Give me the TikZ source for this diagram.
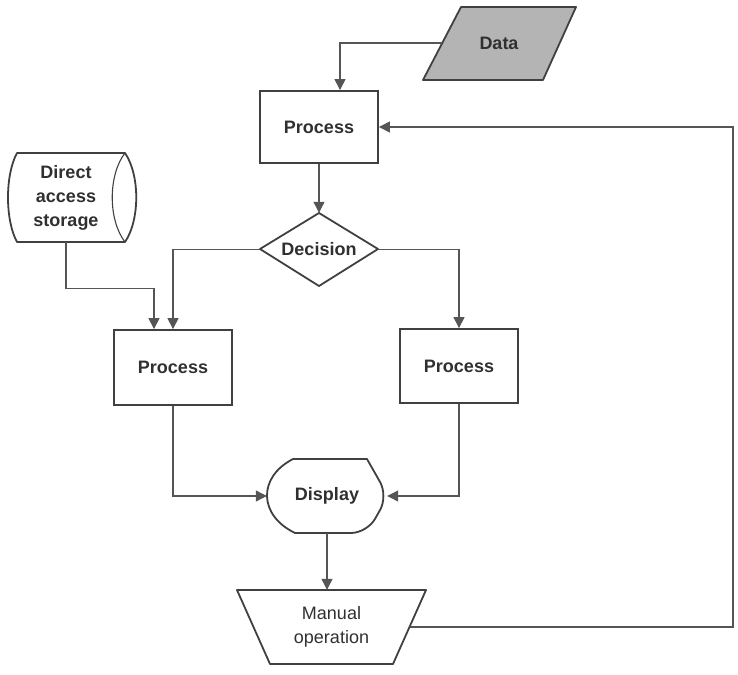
\documentclass[tikz,border=0pt]{standalone}
\usepackage{fontspec}
\setmainfont{Liberation Sans}
\usetikzlibrary{arrows.meta}
\definecolor{textc}{HTML}{303030}
\definecolor{linec}{HTML}{404040}
\definecolor{connc}{HTML}{555555}
\definecolor{datafill}{HTML}{B4B4B4}
\tikzset{
  box/.style={draw=linec, line width=1.8pt, minimum width=118pt, inner sep=0pt},
  outline/.style={draw=linec, line width=1.8pt, line join=round},
  holder/.style={inner sep=0pt, draw=none},
  conn/.style={draw=connc, line width=1.1pt, -{Triangle[width=11pt,length=11pt]}},
  lbl/.style={font=\fontsize{18}{25}\selectfont\bfseries, text=textc, align=center},
  lblr/.style={font=\fontsize{18}{25}\selectfont, text=textc, align=center},
}
\begin{document}
\begin{tikzpicture}[x=1pt, y=-1pt]
\useasboundingbox (0,0) rectangle (738,674);

% ---- shapes drawn as outlines ----
% input / output (data)
\path[outline, fill=datafill] (461,7) -- (576,7) -- (543,80) -- (423,80) -- cycle;
% direct access storage (horizontal drum)
\path[outline] (17,153) -- (125,153)
  .. controls (140,175) and (140,220) .. (125,242)
  -- (17,242)
  .. controls (5,220) and (5,175) .. (17,153) -- cycle;
\draw[draw=linec, line width=1.1pt] (125,153) .. controls (108,175) and (108,220) .. (125,242);
% decision
\path[outline] (260,249) -- (319,213) -- (378,249) -- (319,286) -- cycle;
% display
\path[outline] (293,459) -- (367,459)
  [rounded corners=16pt] -- (388,496) -- (367,533) [sharp corners]
  -- (295,533)
  .. controls (258,515) and (258,477) .. (293,459) -- cycle;
% manual operation
\path[outline] (237,590) -- (426,590) -- (393,664) -- (270,664) -- cycle;

% ---- nodes ----
\node[holder, lbl, minimum width=115pt, minimum height=73pt] (data) at (499,43.5) {Data};
\node[holder, lbl, minimum width=120pt, minimum height=89pt] (das) at (66,197.5)
  {Direct\\[-1pt]access\\[-1pt]storage};
\node[box, lbl, minimum height=72pt] (p1) at (319,127) {Process};
\node[holder, lbl, minimum width=118pt, minimum height=73pt] (dec) at (319,249.5) {Decision};
\node[box, lbl, minimum height=75pt] (p2) at (173,367.5) {Process};
\node[box, lbl, minimum height=74pt] (p3) at (459,366) {Process};
\node[holder, lbl, minimum width=120pt, minimum height=74pt] (disp) at (327,496) {Display};
\node[holder, lblr, minimum width=189pt, minimum height=74pt] (man) at (331.5,627)
  {Manual\\[-1pt]operation};

% ---- free ends of connectors ----
\coordinate (dataL) at (442,43);
\coordinate (manR) at (409.5,627);
\coordinate (rt) at (733,0);

% ---- connectors ----
\draw[conn] (dataL) -| ([xshift=21pt]p1.north);
\draw[conn] (p1.south) -- (dec.north);
\draw[conn] (dec.west) -| (p2.north);
\draw[conn] (dec.east) -| (p3.north);
\draw[conn] (das.south) |- ++(0,46) -| ([xshift=-19pt]p2.north);
\draw[conn] (p2.south) |- (disp.west);
\draw[conn] (p3.south) |- (disp.east);
\draw[conn] (disp.south) -- (disp.south |- man.north);
\draw[conn] (manR) -- (manR -| rt) -- (rt |- p1.east) -- (p1.east);
\end{tikzpicture}
\end{document}
